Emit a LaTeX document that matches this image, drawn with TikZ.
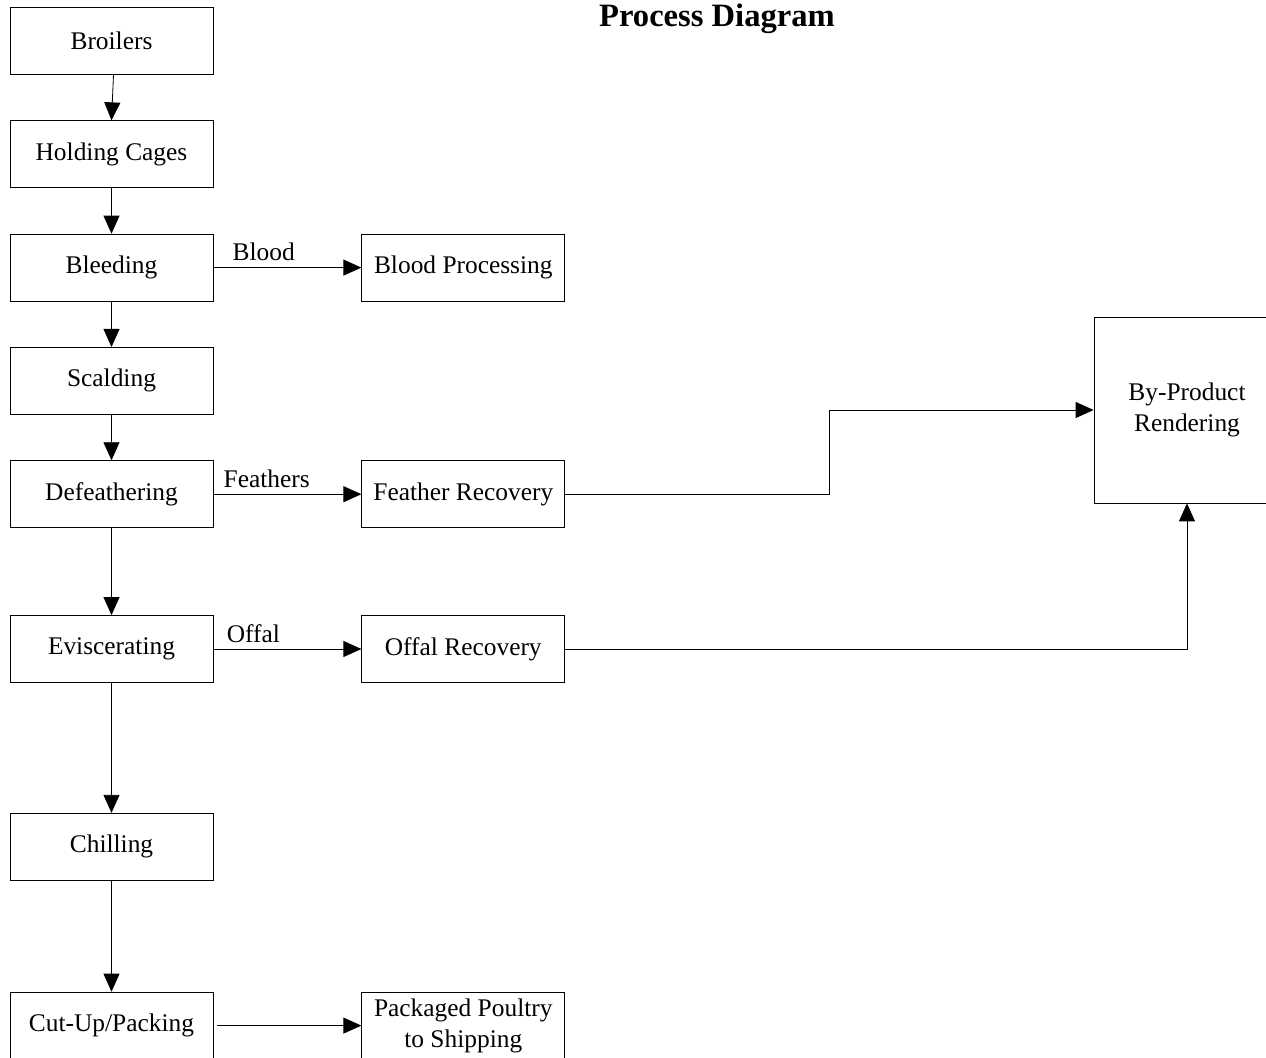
\documentclass[tikz,border=0pt]{standalone}
\usepackage{fontspec}
\setmainfont{Liberation Serif}
\usetikzlibrary{arrows.meta, positioning}
\tikzset{
    block/.style={
        rectangle, draw=black, thin, fill=white, inner sep=2pt,
        minimum width=101.5pt, minimum height=33.5pt,
        align=center, font=\fontsize{12.7}{15.5}\selectfont
    },
    bigblock/.style={block, minimum width=93pt, minimum height=93pt},
    connection/.style={draw=black, thin, -{Triangle[length=9pt,width=8pt]}},
    flowlabel/.style={font=\fontsize{12.7}{15.5}\selectfont, inner sep=3pt},
    titlelabel/.style={font=\fontsize{16.3}{19}\selectfont\bfseries}
}
\begin{document}
\begin{tikzpicture}[x=0.5pt, y=-0.5pt, node distance=22.75pt and 74pt]
\useasboundingbox (0,0) rectangle (1266,1058);

% Title
\node[titlelabel] (title) at (717,19) {Process Diagram};

% Left: main line
\node[block] (broilers) at (111.5,41) {Broilers};
\node[block, below=of broilers] (holding) {Holding Cages};
\node[block, below=of holding] (bleeding) {Bleeding};
\node[block, below=of bleeding] (scalding) {Scalding};
\node[block, below=of scalding] (defeather) {Defeathering};
\node[block, below=43.5pt of defeather] (eviscerate) {Eviscerating};
\node[block, below=65pt of eviscerate] (chilling) {Chilling};
\node[block, below=55.5pt of chilling] (cutup) {Cut-Up/Packing};

% Center: recovery
\node[block, right=of bleeding] (bloodproc) {Blood Processing};
\node[block, right=of defeather] (featherrec) {Feather Recovery};
\node[block, right=of eviscerate] (offalrec) {Offal Recovery};
\node[block, right=of cutup] (packaged) {Packaged Poultry\\to Shipping};

% Right: rendering
\node[bigblock] (render) at (1187,410) {By-Product\\Rendering};

% Main flow
\draw[connection] ([xshift=1pt]broilers.south) -- (holding.north);
\draw[connection] (holding) -- (bleeding);
\draw[connection] (bleeding) -- (scalding);
\draw[connection] (scalding) -- (defeather);
\draw[connection] (defeather) -- (eviscerate);
\draw[connection] (eviscerate) -- (chilling);
\draw[connection] (chilling) -- (cutup);
\draw[connection, shorten <=2pt] (cutup) -- (packaged);

% By-products
\draw[connection] (bleeding) -- node[flowlabel, above, pos=0.34] {Blood} (bloodproc);
\draw[connection] (defeather) -- node[flowlabel, above, pos=0.36] {Feathers} (featherrec);
\draw[connection] (eviscerate) -- node[flowlabel, above, pos=0.27] {Offal} (offalrec);
\draw[connection] (featherrec.east) -- ++(264,0) |- (render.west);
\draw[connection] (offalrec.east) -| (render.south);

\end{tikzpicture}
\end{document}
